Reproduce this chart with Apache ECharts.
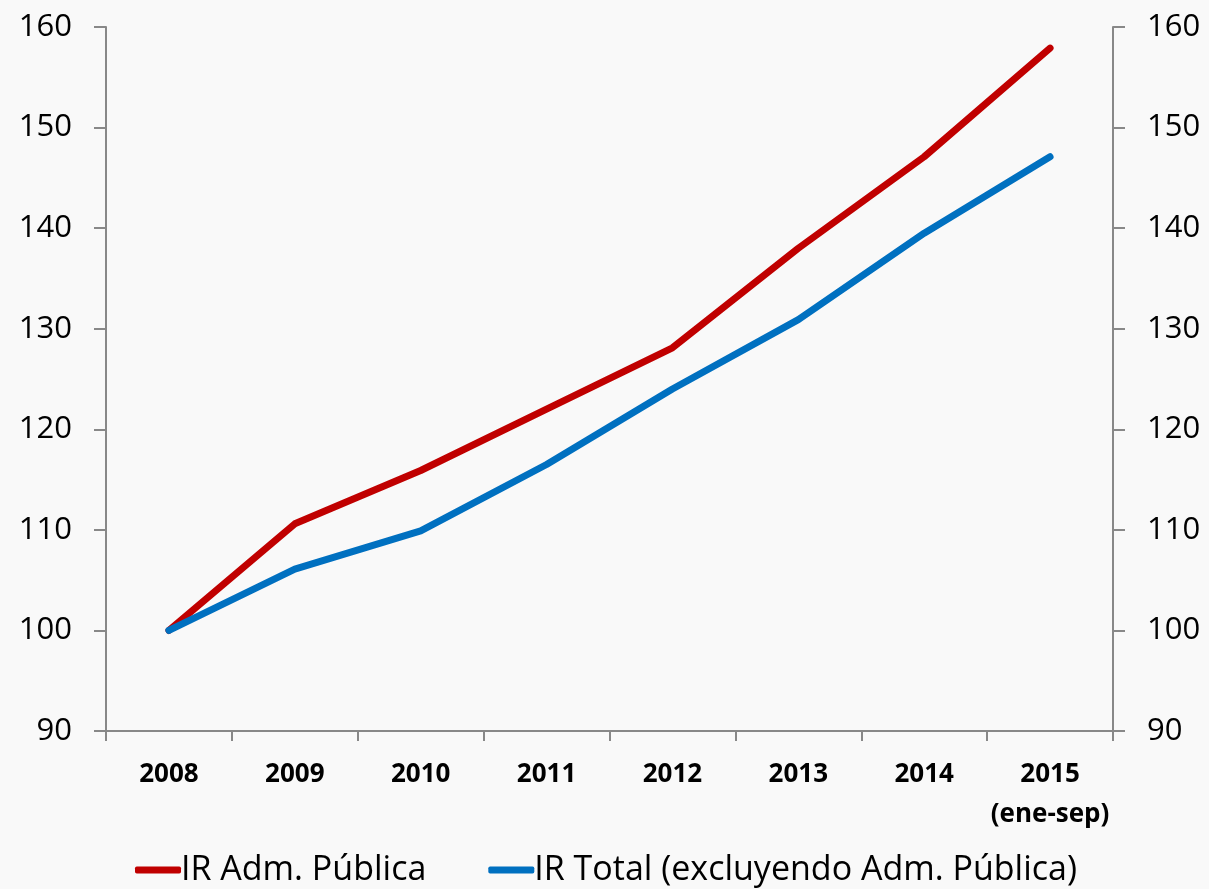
<!DOCTYPE html>
<html><head><meta charset="utf-8">
<script src="https://cdn.jsdelivr.net/npm/echarts@6/dist/echarts.min.js"></script>
<style>html,body{margin:0;padding:0;background:#f9f9f9;}#c{width:1209px;height:889px;}</style>
</head><body><div id="c"></div>
<script>
const categories = ['2008','2009','2010','2011','2012','2013','2014','2015\n(ene-sep)'];
const irAdmPublica = [100, 110.6, 115.9, 122.0, 128.1, 138.0, 147.1, 157.9];
const irTotal = [100, 106.1, 109.9, 116.5, 124.0, 130.9, 139.5, 147.1];
const seriesNames = ['IR Adm. Pública', 'IR Total (excluyendo Adm. Pública)'];
const yTicks = {min: 90, max: 160, interval: 10};

const chart = echarts.init(document.getElementById('c'));
const axisLine = {show: true, lineStyle: {color: '#888888', width: 2}};
const yLabel = {fontFamily: 'Open Sans', fontSize: 31, color: '#000'};
chart.setOption({
  backgroundColor: '#f9f9f9',
  animation: false,
  grid: {left: 106, right: 96, top: 27, bottom: 158},
  legend: {
    bottom: -3, left: 130, itemGap: 62, itemWidth: 46, itemHeight: 7,
    icon: 'roundRect',
    textStyle: {fontFamily: 'Open Sans', fontSize: 34, color: '#000', padding: [0,0,0,-5]},
    data: seriesNames
  },
  xAxis: {
    type: 'category', data: categories, boundaryGap: true,
    axisLine: axisLine,
    axisTick: {show: true, length: 10, interval: 0, lineStyle: {color: '#888888', width: 2}},
    axisLabel: {interval: 0, fontFamily: 'Open Sans', fontWeight: 'bold', fontSize: 26, color: '#000', margin: 24, lineHeight: 40}
  },
  yAxis: [
    {type: 'value', position: 'left', min: yTicks.min, max: yTicks.max, interval: yTicks.interval,
     axisLine: axisLine, axisTick: {show: true, length: 12, lineStyle: {color: '#888888', width: 2}},
     splitLine: {show: false}, axisLabel: Object.assign({margin: 34}, yLabel)},
    {type: 'value', position: 'right', min: yTicks.min, max: yTicks.max, interval: yTicks.interval,
     axisLine: axisLine, axisTick: {show: true, length: 12, lineStyle: {color: '#888888', width: 2}},
     splitLine: {show: false}, axisLabel: Object.assign({margin: 34}, yLabel)}
  ],
  series: [
    {name: seriesNames[0], type: 'line', data: irAdmPublica, yAxisIndex: 0, showSymbol: false, symbol: 'none',
     lineStyle: {color: '#C00000', width: 7, cap: 'round', join: 'round'}, itemStyle: {color: '#C00000'}},
    {name: seriesNames[1], type: 'line', data: irTotal, yAxisIndex: 0, showSymbol: false, symbol: 'none',
     lineStyle: {color: '#0070C0', width: 7, cap: 'round', join: 'round'}, itemStyle: {color: '#0070C0'}}
  ]
});
</script></body></html>
